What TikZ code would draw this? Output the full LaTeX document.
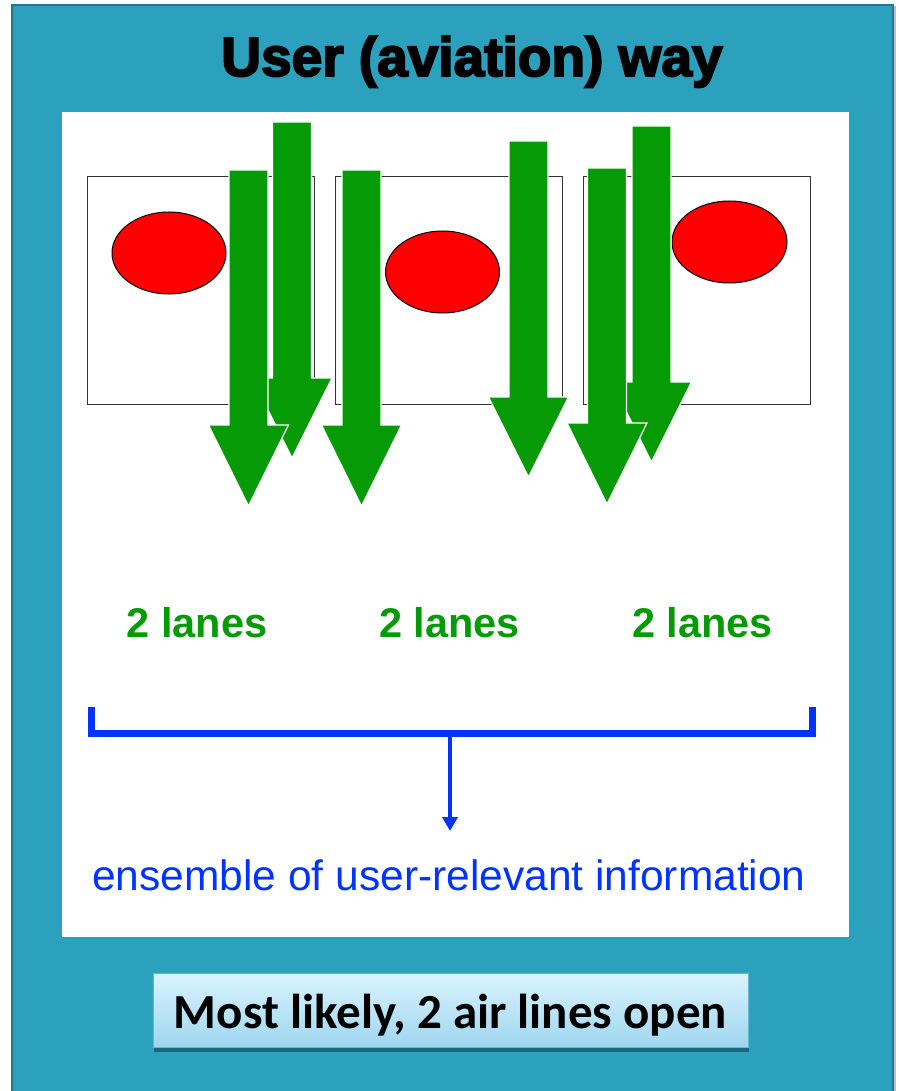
\documentclass[tikz,border=0pt]{standalone}
\usepackage{fontspec}
\setmainfont{Liberation Sans}
\newfontfamily\calibrifont{Carlito}
\newfontfamily\heavyfont[BoldFeatures={FakeBold=3.5}]{Liberation Sans}
\usetikzlibrary{arrows.meta,shadows,shapes.geometric}

\definecolor{panelteal}{RGB}{44,161,189}
\definecolor{paneledge}{RGB}{35,118,142}
\definecolor{lanegreen}{RGB}{6,154,6}
\definecolor{infoblue}{RGB}{0,51,255}
\definecolor{notetop}{RGB}{218,244,254}
\definecolor{notebottom}{RGB}{158,214,239}
\definecolor{noteedge}{RGB}{100,185,215}

\tikzset{
  lanebox/.style={draw=black!80, line width=1pt, fill=white,
    minimum width=227pt, minimum height=227pt, inner sep=0pt},
  hub/.style={ellipse, draw=black, line width=1pt, fill=red,
    minimum width=114pt, minimum height=82pt, inner sep=0pt},
  lanelabel/.style={text=lanegreen, inner sep=0pt, anchor=base,
    font=\fontsize{41.5}{45}\selectfont\bfseries},
  lanearrow/.style={fill=lanegreen, draw=white, line width=1.2pt, line join=miter},
  bracket/.style={draw=infoblue, line width=7pt, line join=miter, line cap=butt},
  infotext/.style={text=infoblue, inner sep=0pt, anchor=base,
    font=\fontsize{42.5}{46}\selectfont},
  note/.style={draw=noteedge, line width=1pt, top color=notetop, bottom color=notebottom,
    minimum width=595pt, minimum height=74pt, inner sep=0pt,
    text height=36pt, text depth=0pt,
    font=\calibrifont\bfseries\fontsize{49}{53}\selectfont,
    drop shadow={shadow xshift=1pt, shadow yshift=-5pt, opacity=0.35, fill=black}},
}

% block arrow pointing down: centre x, top y, head base y, tip y
\newcommand\lanedown[4]{%
  \filldraw[lanearrow] (#1-19.5,#2) -- (#1+19.5,#2) -- (#1+19.5,#3) -- (#1+40,#3)
    -- (#1,#4) -- (#1-40,#3) -- (#1-19.5,#3) -- cycle;}

\begin{document}
\begin{tikzpicture}[x=1pt,y=-1pt]
\useasboundingbox (0,0) rectangle (898,1091);
\fill[white] (0,0) rectangle (898,1091);

% outer teal card and its edge shadow
\draw[black!25, line width=2pt] (895,6) -- (895,1091);
\filldraw[fill=panelteal, draw=paneledge, line width=1.2pt] (12,5) rectangle (893,1095);

\node[inner sep=0pt, anchor=base, font=\heavyfont\bfseries\fontsize{55}{60}\selectfont]
  (title) at (472,76) {User (aviation) way};

% white drawing area
\fill[white] (62,112) rectangle (849,937);

% three road sections with their hubs
\node[lanebox] (box1) at (200.5,290.5) {};
\node[lanebox] (box2) at (449,290.5) {};
\node[lanebox] (box3) at (696.5,290.5) {};
\node[hub] (hub1) at (169,253) {};
\node[hub] (hub2) at (442.5,272) {};
\node[hub, minimum width=115pt] (hub3) at (729.5,242) {};

% traffic lanes
\lanedown{292}{122}{378}{458}
\lanedown{248.5}{170}{425}{506}
\lanedown{361.5}{170}{425}{506}
\lanedown{528.5}{141}{397}{477}
\lanedown{651.5}{126}{382}{462}
\lanedown{607}{168}{423}{504}

\node[lanelabel] (lanes1) at (197,637) {2 lanes};
\node[lanelabel] (lanes2) at (449.5,637) {2 lanes};
\node[lanelabel] (lanes3) at (702.5,637) {2 lanes};

% grouping bracket
\draw[bracket] (91,707) -- (91,733) -- (812,733) -- (812,707);
\coordinate (brmid) at (450,736);
\node[infotext] (info) at (449,890) {ensemble of user-relevant information};
\draw[infoblue, line width=4pt, shorten >=28pt,
  -{Triangle[length=14pt,width=15pt]}] (brmid) -- (brmid |- info.north);

% conclusion
\node[note] (verdict) at (450.5,1010) {Most likely, 2 air lines open};
\end{tikzpicture}
\end{document}
